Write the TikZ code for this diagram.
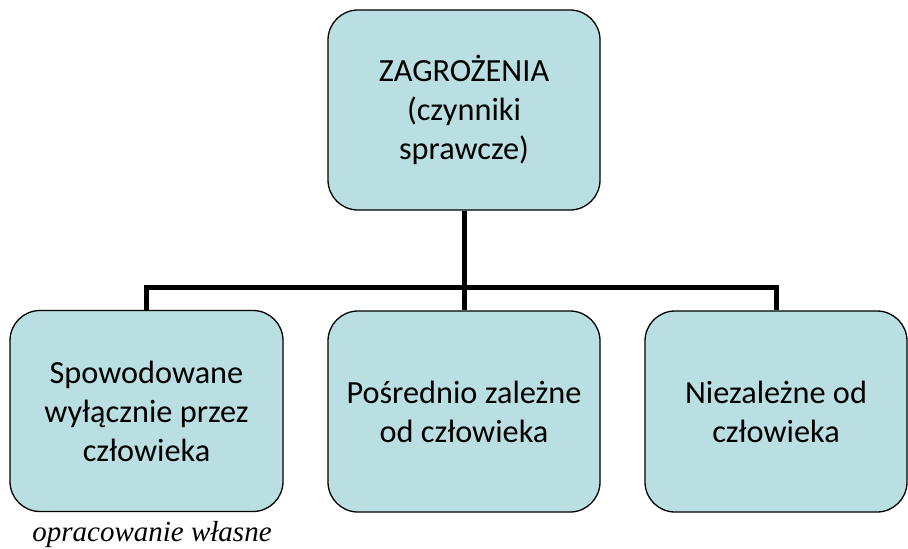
\documentclass[tikz,border=0pt]{standalone}
\usepackage{fontspec}
\setmainfont{Carlito}
\newfontfamily\captionserif{Liberation Serif}
\definecolor{boxfill}{RGB}{186,223,226}
\tikzset{
  treebox/.style={draw=black, line width=1.3pt, fill=boxfill, rounded corners=30pt,
    minimum height=200pt, inner sep=0pt, align=center,
    font=\fontsize{32.3}{39}\selectfont},
  treelink/.style={line width=5pt, draw=black}
}
\begin{document}
\begin{tikzpicture}[x=1pt,y=-1pt]
  \useasboundingbox (0,0) rectangle (908,549);
  % hierarchy boxes
  \node[treebox, minimum width=272pt] (top) at (464,110) {ZAGROŻENIA\\(czynniki\\sprawcze)};
  \node[treebox, minimum width=273pt, minimum height=201pt] (left) at (146.5,411) {Spowodowane\\wyłącznie przez\\człowieka};
  \node[treebox, minimum width=272pt, minimum height=201pt] (mid) at (464,411.5) {Pośrednio zależne\\od człowieka};
  \node[treebox, minimum width=262pt, minimum height=201pt] (right) at (776,411.5) {Niezależne od\\człowieka};
  % connectors
  \coordinate (bus) at (464,287);
  \draw[treelink] (top.south) -- (bus);
  \draw[treelink] (bus) -| (left.north);
  \draw[treelink] (bus) -- (mid.north);
  \draw[treelink] (bus) -| (right.north);
  % source note
  \node[font=\captionserif\itshape\fontsize{29}{34}\selectfont, anchor=base] (note) at (152,541) {opracowanie własne};
\end{tikzpicture}
\end{document}
